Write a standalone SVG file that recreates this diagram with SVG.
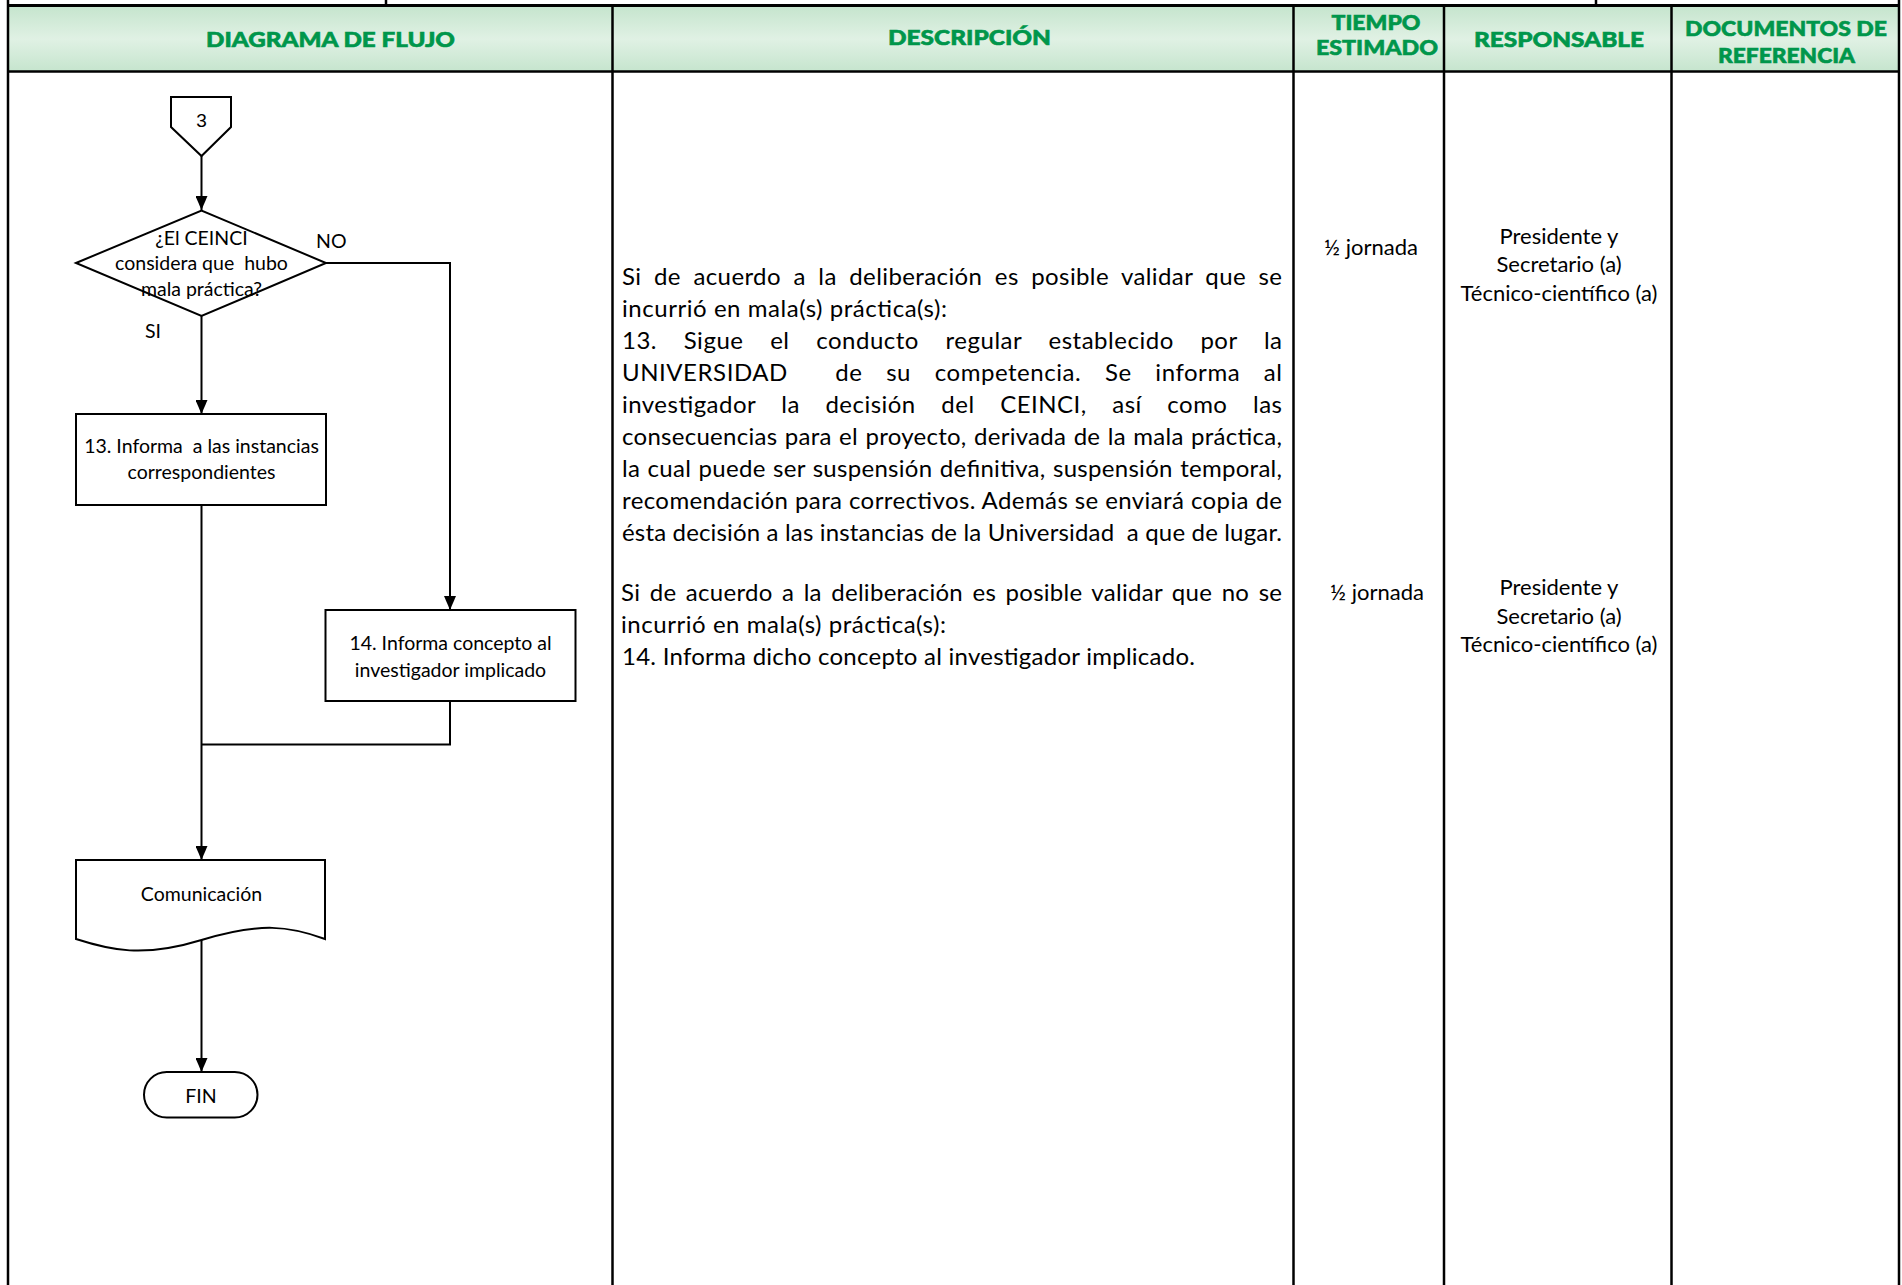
<svg xmlns="http://www.w3.org/2000/svg" width="1902" height="1285" viewBox="0 0 1902 1285">
<defs>
<linearGradient id="hdr" x1="0" y1="0" x2="0" y2="1">
<stop offset="0" stop-color="#c6e5ce"/>
<stop offset="0.5" stop-color="#e0f1e4"/>
<stop offset="1" stop-color="#c6e5ce"/>
</linearGradient>
<marker id="arr" markerUnits="userSpaceOnUse" markerWidth="14" markerHeight="12" refX="14" refY="6" orient="auto">
<path d="M0,0 L14,6 L0,12 Z" fill="#000"/>
</marker>
</defs>
<style>
.grid{stroke:#000;stroke-width:2.5;fill:none}
.hd{font-family:Lato,"Open Sans","DejaVu Sans",sans-serif;font-weight:900;font-size:21px;fill:#00964b;stroke:#00964b;stroke-width:0.6;text-anchor:middle}
.shape{fill:#fff;stroke:#000;stroke-width:2}
.conn{fill:none;stroke:#000;stroke-width:2}
.fc{font-family:Lato,"Open Sans","DejaVu Sans",sans-serif;font-size:19.5px;fill:#000;text-anchor:middle}
.lbl{font-family:Lato,"Open Sans","DejaVu Sans",sans-serif;font-size:19.5px;fill:#000}
.desc{font-family:Lato,"Open Sans","DejaVu Sans",sans-serif;font-size:24px;fill:#000}
.col{font-family:Lato,"Open Sans","DejaVu Sans",sans-serif;font-size:22px;fill:#000;text-anchor:middle}
</style>
<rect x="0" y="0" width="1902" height="1285" fill="#fff"/>

<g id="table">
<rect x="8" y="7" width="1891" height="64" fill="url(#hdr)"/>
<line class="grid" x1="386" y1="0" x2="386" y2="6"/>
<line class="grid" x1="1596" y1="0" x2="1596" y2="6"/>
<line x1="7" y1="5.5" x2="1900" y2="5.5" stroke="#000" stroke-width="3"/>
<line class="grid" x1="8" y1="71.5" x2="1899" y2="71.5"/>
<line class="grid" x1="8" y1="0" x2="8" y2="1285"/>
<line class="grid" x1="1899" y1="0" x2="1899" y2="1285"/>
<line class="grid" x1="612.5" y1="5" x2="612.5" y2="1285"/>
<line class="grid" x1="1293.5" y1="5" x2="1293.5" y2="1285"/>
<line class="grid" x1="1444" y1="5" x2="1444" y2="1285"/>
<line class="grid" x1="1671.5" y1="5" x2="1671.5" y2="1285"/>
<text class="hd" x="330.5" y="46.5" textLength="249" lengthAdjust="spacingAndGlyphs">DIAGRAMA DE FLUJO</text>
<text class="hd" x="969.5" y="45" textLength="163" lengthAdjust="spacingAndGlyphs">DESCRIPCIÓN</text>
<text class="hd" x="1376" y="30" textLength="89" lengthAdjust="spacingAndGlyphs">TIEMPO</text>
<text class="hd" x="1377" y="55" textLength="122" lengthAdjust="spacingAndGlyphs">ESTIMADO</text>
<text class="hd" x="1559" y="46.5" textLength="170" lengthAdjust="spacingAndGlyphs">RESPONSABLE</text>
<text class="hd" x="1786" y="36" textLength="202" lengthAdjust="spacingAndGlyphs">DOCUMENTOS DE</text>
<text class="hd" x="1786.5" y="63" textLength="137" lengthAdjust="spacingAndGlyphs">REFERENCIA</text>
</g>

<g id="connectors">
<path class="conn" d="M201.5,156 V210" marker-end="url(#arr)"/>
<path class="conn" d="M201.5,316 V414" marker-end="url(#arr)"/>
<path class="conn" d="M326,263 H450 V610" marker-end="url(#arr)"/>
<path class="conn" d="M201.5,505 V860" marker-end="url(#arr)"/>
<path class="conn" d="M450,701 V744.5 H201.5"/>
<path class="conn" d="M201.5,940 V1072" marker-end="url(#arr)"/>
<text class="lbl" x="316" y="248">NO</text>
<text class="lbl" x="145" y="338">SI</text>
</g>

<g id="node-conector-3">
<path class="shape" d="M171,97 H231 V127 L201.5,156 L171,127 Z"/>
<text x="201.5" y="127" font-family="'Liberation Sans',Arial,sans-serif" font-size="19" text-anchor="middle">3</text>
</g>

<g id="node-decision">
<path class="shape" d="M76,263 L201.5,210.5 L326,263 L201.5,316 Z"/>
<text class="fc" x="201.5" y="245">¿El CEINCI</text>
<text class="fc" x="201.5" y="270" xml:space="preserve">considera que  hubo</text>
<text class="fc" x="201.5" y="296">mala práctica?</text>
</g>

<g id="node-13">
<rect class="shape" x="76" y="414" width="250" height="91"/>
<text class="fc" x="201.5" y="453" xml:space="preserve">13. Informa  a las instancias</text>
<text class="fc" x="201.5" y="479">correspondientes</text>
</g>

<g id="node-14">
<rect class="shape" x="325.5" y="610" width="250" height="91"/>
<text class="fc" x="450.5" y="650">14. Informa concepto al</text>
<text class="fc" x="450.5" y="677">investigador implicado</text>
</g>

<g id="node-comunicacion">
<path class="shape" d="M76,860 H325 V939 C290,926 260,922 201.5,940 C143,958 110,950 76,939 Z"/>
<text class="fc" x="201.5" y="901">Comunicación</text>
</g>

<g id="node-fin">
<rect class="shape" x="144" y="1072" width="113.5" height="45.5" rx="22.75" ry="22.75"/>
<text class="fc" x="201" y="1103">FIN</text>
</g>

<g id="descripcion">
<text class="desc" x="622" y="285" textLength="660" lengthAdjust="spacing" word-spacing="6">Si de acuerdo a la deliberación es posible validar que se</text>
<text class="desc" x="622" y="317" textLength="325" lengthAdjust="spacing">incurrió en mala(s) práctica(s):</text>
<text class="desc" x="622" y="349" textLength="660" lengthAdjust="spacing" word-spacing="20">13. Sigue el conducto regular establecido por la</text>
<text class="desc" x="622" y="381" textLength="660" lengthAdjust="spacing" word-spacing="17" xml:space="preserve">UNIVERSIDAD  de su competencia. Se informa al</text>
<text class="desc" x="622" y="413" textLength="660" lengthAdjust="spacing" word-spacing="19">investigador la decisión del CEINCI, así como las</text>
<text class="desc" x="622" y="445" textLength="660" lengthAdjust="spacing" word-spacing="1">consecuencias para el proyecto, derivada de la mala práctica,</text>
<text class="desc" x="622" y="477" textLength="660" lengthAdjust="spacing" word-spacing="1">la cual puede ser suspensión definitiva, suspensión temporal,</text>
<text class="desc" x="622" y="509" textLength="660" lengthAdjust="spacing">recomendación para correctivos. Además se enviará copia de</text>
<text class="desc" x="622" y="541" textLength="660" lengthAdjust="spacing" xml:space="preserve">ésta decisión a las instancias de la Universidad  a que de lugar.</text>
<text class="desc" x="621" y="601" textLength="661" lengthAdjust="spacing" word-spacing="3">Si de acuerdo a la deliberación es posible validar que no se</text>
<text class="desc" x="621" y="633" textLength="325" lengthAdjust="spacing">incurrió en mala(s) práctica(s):</text>
<text class="desc" x="622" y="665" textLength="573" lengthAdjust="spacing">14. Informa dicho concepto al investigador implicado.</text>
</g>

<g id="tiempo">
<text class="col" x="1371" y="255">½ jornada</text>
<text class="col" x="1377" y="600">½ jornada</text>
</g>

<g id="responsable">
<text class="col" x="1559" y="244">Presidente y</text>
<text class="col" x="1559" y="272">Secretario (a)</text>
<text class="col" x="1559" y="301">Técnico-científico (a)</text>
<text class="col" x="1559" y="595">Presidente y</text>
<text class="col" x="1559" y="624">Secretario (a)</text>
<text class="col" x="1559" y="652">Técnico-científico (a)</text>
</g>
</svg>
